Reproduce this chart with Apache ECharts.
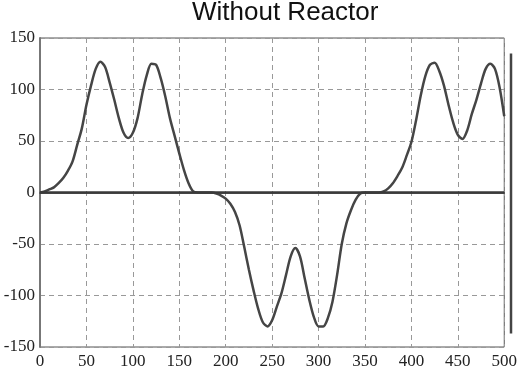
<!DOCTYPE html>
<html>
<head>
<meta charset="utf-8">
<script src="https://cdn.jsdelivr.net/npm/echarts@6/dist/echarts.min.js"></script>
<style>html,body{margin:0;padding:0;background:#fff;}#c{width:520px;height:371px;}</style>
</head>
<body>
<div id="c"></div>
<script>
var titleText = 'Without Reactor';
var xValues = [0,5,10,15,20,25,30,35,40,45,50,55,60,65,70,75,80,85,90,95,
  100,105,110,115,120,125,130,135,140,145,150,155,160,165,170,175,
  180,185,190,195,200,205,210,215,220,225,230,235,240,245,250,255,
  260,265,270,275,280,285,290,295,300,305,310,315,320,325,330,335,
  340,345,350,355,360,365,370,375,380,385,390,395,400,405,410,415,
  420,425,430,435,440,445,450,455,460,465,470,475,480,485,490,495,500];
var yValues = [0,1,3,5,9,14,21,30,46,62,85,104,120,127,122,107,90,72,58,53,
  58,72,95,114,125,124,111,93,72,55,38,22,9,1,0,0,
  0,0,-1,-3,-6,-11,-19,-32,-53,-75,-95,-113,-126,-130,-124,-111,
  -98,-80,-62,-54,-62,-83,-104,-121,-130,-130,-122,-106,-80,-50,-30,-17,
  -7,-1,0,0,0,0,1,4,9,16,24,36,49,70,94,113,
  124,126,118,104,85,68,56,52,60,76,90,106,120,125,120,102,74];
var edgeX = [500, 500];
var edgeY = [135, -137];
var xTicks = [0,50,100,150,200,250,300,350,400,450,500];
var yTicks = [-150,-100,-50,0,50,100,150];

var curve = xValues.map(function(x,i){return [x, yValues[i]];});
var edge = edgeX.map(function(x,i){return [x, edgeY[i]];});

var chart = echarts.init(document.getElementById('c'), null, {renderer:'canvas'});
var labelFont = {fontFamily:'Liberation Serif', fontSize:17, color:'#222'};
chart.setOption({
  animation:false,
  backgroundColor:'#fff',
  title:{text:titleText, left:192, top:0, padding:0,
    textStyle:{fontFamily:'Liberation Sans', fontSize:26, fontWeight:'normal', color:'#111'}},
  grid:[
    {left:40, right:12, top:38, bottom:24, show:true, borderColor:'#555', borderWidth:1},
    {left:40, right:9, top:38, bottom:24, show:false}
  ],
  xAxis:[
    {type:'value', gridIndex:0, min:xTicks[0], max:xTicks[xTicks.length-1], interval:50,
      axisLine:{show:true, lineStyle:{color:'#333', width:1.5}},
      axisTick:{show:false},
      axisLabel:Object.assign({margin:6}, labelFont),
      splitLine:{show:true, lineStyle:{type:[5,4], color:'#999', width:1}}},
    {type:'value', gridIndex:1, min:xTicks[0], max:xTicks[xTicks.length-1], show:false}
  ],
  yAxis:[
    {type:'value', gridIndex:0, min:yTicks[0], max:yTicks[yTicks.length-1], interval:50,
      axisLine:{show:true, lineStyle:{color:'#777', width:2}},
      axisTick:{show:false},
      axisLabel:Object.assign({margin:5}, labelFont),
      splitLine:{show:true, lineStyle:{type:[5,4], color:'#999', width:1}}},
    {type:'value', gridIndex:1, min:yTicks[0], max:yTicks[yTicks.length-1], show:false}
  ],
  series:[
    {type:'line', xAxisIndex:0, yAxisIndex:0, data:curve, showSymbol:false, smooth:0.3,
      lineStyle:{color:'#454545', width:2.5},
      markLine:{silent:true, symbol:'none', label:{show:false},
        lineStyle:{type:'solid', color:'#3a3a3a', width:2.5},
        data:[{yAxis:0}]}},
    {type:'line', xAxisIndex:1, yAxisIndex:1, data:edge, showSymbol:false,
      lineStyle:{color:'#444', width:2.5}}
  ]
});
</script>
</body>
</html>
